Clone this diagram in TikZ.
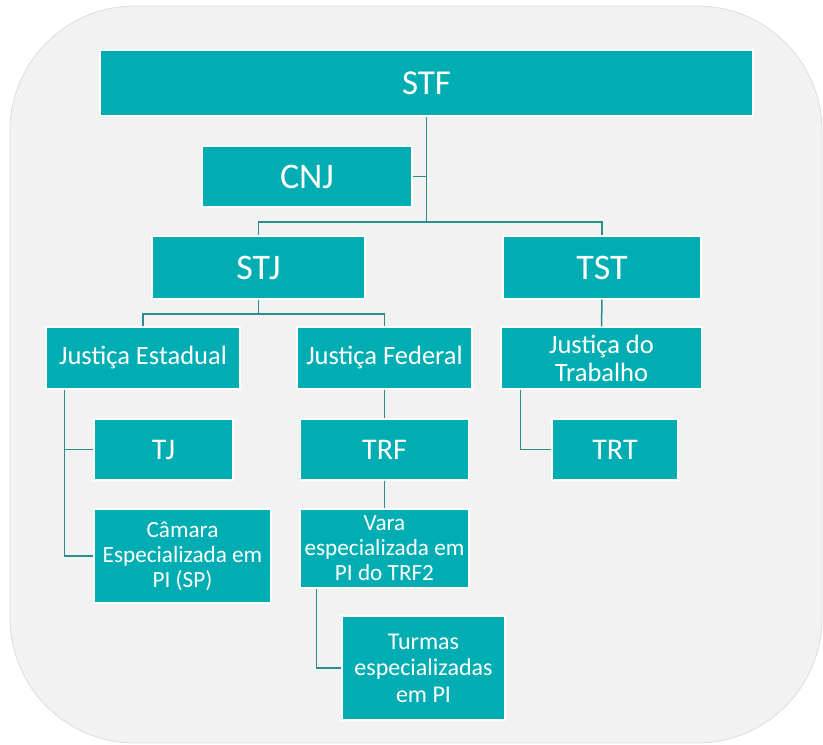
\documentclass[tikz,border=0pt]{standalone}
\usepackage{fontspec}
\setmainfont{Carlito}
\usepackage{tikz}
\usepackage{xcolor}
\usetikzlibrary{calc}
\usetikzlibrary{positioning}

\definecolor{boxteal}{HTML}{00ADB3}
\definecolor{linkteal}{HTML}{2A8E90}
\definecolor{bggray}{HTML}{F2F2F2}
\definecolor{bgedge}{HTML}{DCDCDC}

\begin{document}
\begin{tikzpicture}[x=1pt, y=-1pt,
    orgbox/.style={fill=boxteal, draw=white, line width=1.2pt, text=white,
      align=center, inner sep=0pt},
    big/.style={font=\fontsize{36}{39}\selectfont},
    mid/.style={font=\fontsize{26.5}{28}\selectfont},
    trib/.style={font=\fontsize{30}{33}\selectfont},
    small/.style={font=\fontsize{23.2}{25}\selectfont},
    link/.style={draw=linkteal, line width=1.5pt}]

  \useasboundingbox (0,0) rectangle (823,745);
  \draw[fill=bggray, draw=bgedge, line width=0.8pt, rounded corners=125] (10,6) rectangle (822,743);

  % top levels
  \node[orgbox, minimum width=653, minimum height=66, font=\fontsize{35}{38}\selectfont] (STF) at (426.5,83) {STF};
  \node[orgbox, big, minimum width=210, minimum height=61] (CNJ) at (307,176.5) {CNJ};
  \node[orgbox, big, minimum width=213, minimum height=63] (STJ) at (258.5,267.5) {STJ};
  \node[orgbox, big, minimum width=198, minimum height=63] (TST) at (602,267.5) {TST};

  % justicas
  \node[orgbox, mid, minimum width=194, minimum height=62] (JE) at (143,358) {Justiça Estadual};
  \node[orgbox, mid, minimum width=175, minimum height=62] (JF) at (384.5,358) {Justiça Federal};
  \node[orgbox, mid, minimum width=201, minimum height=62] (JT) at (601.5,358) {Justiça do\\Trabalho};

  % tribunais
  \node[orgbox, trib, minimum width=139, minimum height=61] (TJ) at (163.5,449.5) {TJ};
  \node[orgbox, trib, minimum width=168, minimum height=61] (TRF) at (384.5,449.5) {TRF};
  \node[orgbox, trib, minimum width=126, minimum height=61] (TRT) at (615,449.5) {TRT};

  % especializadas
  \node[orgbox, small, minimum width=177, minimum height=94] (CAM) at (182.5,556) {Câmara\\Especializada em\\PI (SP)};
  \node[orgbox, small, minimum width=169, minimum height=79] (VARA) at (384.5,548.5) {Vara\\especializada em\\PI do TRF2};
  \node[orgbox, minimum width=163, minimum height=104, font=\fontsize{24}{26.5}\selectfont] (TUR) at (423.5,668) {Turmas\\especializadas\\em PI};

  % connectors
  \coordinate (b1) at (426.5,222);
  \coordinate (b2) at (258.5,314);
  \draw[link] (STF) -- (b1);
  \draw[link] (CNJ.east) -- (CNJ.east -| b1);
  \draw[link] (STJ.north) |- (b1) -| (TST.north);
  \draw[link] (STJ) -- (b2);
  \draw[link] (JE.north) |- (b2) -| (JF.north);
  \draw[link] (TST) -- (JT);
  \draw[link] ([xshift=19]JE.south west) |- (TJ.west);
  \draw[link] ([xshift=19]JE.south west) |- (CAM.west);
  \draw[link] (JF) -- (TRF);
  \draw[link] (TRF) -- (VARA);
  \draw[link] ([xshift=20]JT.south west) |- (TRT.west);
  \draw[link] ([xshift=17]VARA.south west) |- (TUR.west);

\end{tikzpicture}
\end{document}
